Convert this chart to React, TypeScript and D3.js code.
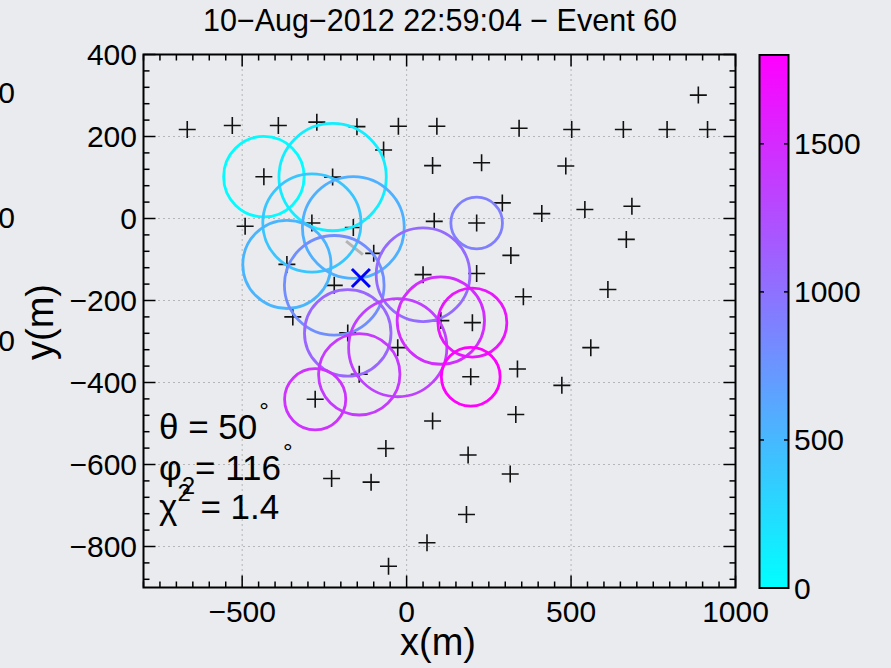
import React from 'react'
import * as d3 from 'd3'

// station positions (m)
const stationX = [-667, -530, -390, -273, -151, -25, 92, -70, 79, -434, -225, -491, -288, -162, 84, -100, -364, 50, -220, -346,
  342, 502, 659, 792, 915, 887, 228, 484, 291, 213, 411, 542, 685, 668, 317, 213, 355, 612, 200, 560, 337, 195, 472, 332, 187, 315, 182,
  -179, -27, -144, -278, 79, -63, -228, -108, 62, -55, 104]
const stationY = [217, 227, 227, 235, 224, 225, 225, 167, 129, 102, 101, -19, -11, -22, -7, -85, -112, -137, -163, -240,
  220, 217, 217, 217, 217, 301, 136, 128, 38, -11, 12, 22, 30, -51, -90, -134, -191, -173, -254, -315, -367, -386, -407, -478, -577, -623, -722,
  -279, -315, -380, -441, -494, -561, -634, -643, -791, -848, -249]

// hit stations: position, time (colour) and signal (circle size)
const hitX = [-434, -225, -288, -162, -364, -220, 213, 50, -179, -27, -144, -278, 104, 200, 195]
const hitY = [102, 101, -11, -22, -112, -163, -11, -137, -279, -315, -380, -441, -249, -254, -386]
const hitTime = [20, 120, 400, 560, 520, 800, 900, 1050, 1080, 1350, 1400, 1450, 1480, 1650, 1800]
const hitSignal = [45, 80, 67, 72, 54, 69, 18.5, 61, 52, 67, 46, 26, 53, 33, 24]

// reconstructed core and direction
const coreX = -139
const coreY = -145
const dirX = [-184, -133]
const dirY = [-55, -88]

const xTicks = [-500, 0, 500, 1000]
const yTicks = [400, 200, 0, -200, -400, -600, -800]
const cTicks = [0, 500, 1000, 1500]

const W = 891
const H = 668
const left = 143.5, right = 735.5, top = 54.5, bottom = 587.5
const font = '"Liberation Sans", Arial, Helvetica, sans-serif'
const fs = 30

export default function App() {
  const x = d3.scaleLinear().domain([-800, 1000]).range([left, right])
  const y = d3.scaleLinear().domain([-900, 400]).range([bottom, top])
  const c = d3.scaleLinear().domain([0, 1800]).range([588, 55])
  const r = d3.scaleSqrt().domain([0, 100]).range([0, 60])
  const cool = d3.scaleLinear<string>().domain([0, 1800]).range(['#00ffff', '#ff00ff']).interpolate(d3.interpolateRgb)

  const xMinor = d3.range(-800, 1001, 50)
  const yMinor = d3.range(-880, 401, 40)

  const hits = d3.range(hitX.length).map((i) => ({ x: hitX[i], y: hitY[i], t: hitTime[i], s: hitSignal[i] }))
  const cs = 8.5

  return (
    <div style={{ position: 'fixed', left: 0, top: 0 }}>
      <svg width={W} height={H} style={{ display: 'block', fontFamily: font }}>
        <defs>
          <linearGradient id="cool" x1="0" y1="1" x2="0" y2="0">
            <stop offset="0" stopColor="#00ffff" />
            <stop offset="1" stopColor="#ff00ff" />
          </linearGradient>
          <clipPath id="plot">
            <rect x={left} y={top} width={right - left} height={bottom - top} />
          </clipPath>
        </defs>
        <rect width={W} height={H} fill="#e9ebee" />

        {/* cut-off labels of neighbouring figure */}
        {[92, 217, 340].map((v, i) => (
          <text key={i} x={15} y={v} dy="0.35em" fontSize={fs} textAnchor="end" fill="#000">0</text>
        ))}

        <text x={440} y={31} fontSize={30.5} textAnchor="middle">10−Aug−2012 22:59:04 − Event 60</text>

        {/* grid */}
        <g stroke="#808080" strokeWidth={1} strokeDasharray="1,4">
          {xTicks.filter((v) => v < 1000).map((v) => (
            <line key={v} x1={x(v)} x2={x(v)} y1={top} y2={bottom} />
          ))}
          {yTicks.filter((v) => v < 400).map((v) => (
            <line key={v} x1={left} x2={right} y1={y(v)} y2={y(v)} />
          ))}
        </g>

        <g clipPath="url(#plot)">
          {/* stations */}
          <path
            d={stationX.map((sx, i) => {
              const px = x(sx), py = y(stationY[i])
              return `M${px - cs},${py}H${px + cs}M${px},${py - cs}V${py + cs}`
            }).join('')}
            stroke="#111" strokeWidth={1.6} fill="none"
          />
          {/* direction */}
          <line x1={x(dirX[0])} y1={y(dirY[0])} x2={x(dirX[1])} y2={y(dirY[1])} stroke="#b4b4b4" strokeWidth={3} />
          {/* hit circles */}
          {hits.map((h, i) => (
            <circle key={i} cx={x(h.x)} cy={y(h.y)} r={r(h.s)} fill="none" stroke={cool(h.t)} strokeWidth={2.8} />
          ))}
          {/* core */}
          <path
            d={`M${x(coreX) - 9},${y(coreY) - 9}L${x(coreX) + 9},${y(coreY) + 9}M${x(coreX) - 9},${y(coreY) + 9}L${x(coreX) + 9},${y(coreY) - 9}`}
            stroke="#0000ff" strokeWidth={3} fill="none"
          />
        </g>

        {/* ticks */}
        <g stroke="#000" strokeWidth={1.5}>
          {xMinor.map((v) => {
            const len = xTicks.includes(v) ? 12 : 6
            return (
              <g key={v}>
                <line x1={x(v)} x2={x(v)} y1={bottom} y2={bottom - len} />
                <line x1={x(v)} x2={x(v)} y1={top} y2={top + len} />
              </g>
            )
          })}
          {yMinor.map((v) => {
            const len = yTicks.includes(v) ? 12 : 6
            return (
              <g key={v}>
                <line x1={left} x2={left + len} y1={y(v)} y2={y(v)} />
                <line x1={right} x2={right - len} y1={y(v)} y2={y(v)} />
              </g>
            )
          })}
        </g>
        <rect x={left} y={top} width={right - left} height={bottom - top} fill="none" stroke="#000" strokeWidth={2} />

        {/* tick labels */}
        {xTicks.map((v) => (
          <text key={v} x={x(v)} y={622} fontSize={fs} textAnchor="middle">{v < 0 ? `−${-v}` : v}</text>
        ))}
        {yTicks.map((v) => (
          <text key={v} x={137} y={y(v)} dy="0.35em" fontSize={fs} textAnchor="end">{v < 0 ? `−${-v}` : v}</text>
        ))}

        <text x={438} y={655} fontSize={38} textAnchor="middle">x(m)</text>
        <text transform={`translate(53,322) rotate(-90)`} fontSize={38} textAnchor="middle">y(m)</text>

        {/* annotations */}
        <text x={159} y={439} fontSize={35}>θ = 50<tspan dx={2} dy={-20} fontSize={24}>°</tspan></text>
        <text x={159} y={480} fontSize={35}>φ<tspan dy={14} fontSize={24}>2</tspan><tspan dy={-14}>= 116</tspan><tspan dx={2} dy={-20} fontSize={24}>°</tspan></text>
        <text x={159} y={519} fontSize={35}>χ<tspan dy={-18} fontSize={24}>2</tspan><tspan dy={18}> = 1.4</tspan></text>

        {/* colorbar */}
        <rect x={759.5} y={55} width={29} height={533} fill="url(#cool)" stroke="#000" strokeWidth={2} />
        <g stroke="#000" strokeWidth={1.5}>
          {cTicks.filter((v) => v > 0).map((v) => (
            <g key={v}>
              <line x1={759.5} x2={764} y1={c(v)} y2={c(v)} />
              <line x1={788.5} x2={784} y1={c(v)} y2={c(v)} />
            </g>
          ))}
        </g>
        {cTicks.map((v) => (
          <text key={v} x={794} y={c(v)} dy="0.35em" fontSize={fs}>{v}</text>
        ))}
      </svg>
    </div>
  )
}
